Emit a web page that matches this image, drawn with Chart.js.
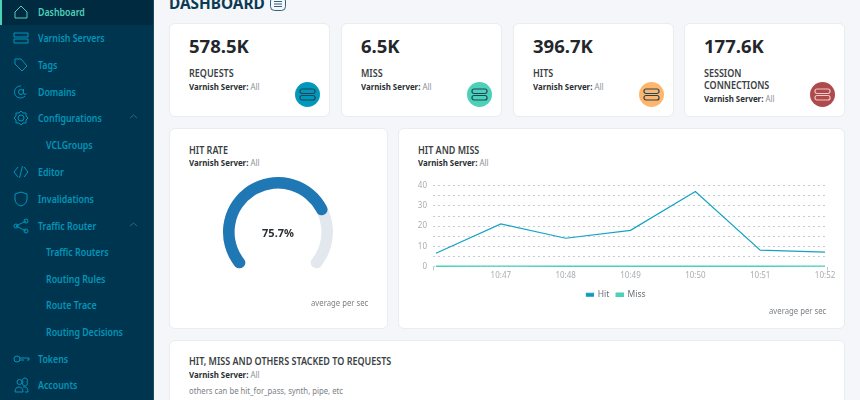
<!DOCTYPE html>
<html>
<head>
<meta charset="utf-8">
<title>Dashboard</title>
<style>
* { box-sizing: border-box; }
html, body { margin: 0; width: 860px; height: 400px; overflow: hidden; background: #f4f6f9; font-family: "Noto Sans", sans-serif; color: #2b2f33; }
.abs, .card, canvas, .nav, .ico { position: absolute; }
.abs { white-space: nowrap; line-height: 14px; }
#sidebar { position: absolute; left: 0; top: 0; width: 154px; height: 400px; background: #003550; border-right: 1px solid #1d4a63; }
#active { position: absolute; left: 0; top: 0; width: 153px; height: 25px; background: #002a40; border-left: 2px solid #4fd1b8; }
.nav { white-space: nowrap; font-size: 10px; font-weight: 600; line-height: 14px; transform: scaleX(.88); transform-origin: left; }
.card { background: #fff; border: 1px solid #e9ecf0; border-radius: 6px; }
.val { font-size: 18.5px; font-weight: 700; line-height: 22px; color: #23272b; }
.lbl { font-size: 10px; font-weight: 600; color: #3a3f44; line-height: 12px; transform: scaleX(.9); transform-origin: left; }
.srv { font-size: 9.5px; color: #8a8f94; transform: scaleX(.83); transform-origin: left; }
.srv b { color: #2b2f33; }
.note { font-size: 9px; color: #7d8287; transform: scaleX(.86); transform-origin: left; }
.dot { position: absolute; width: 25px; height: 25px; border-radius: 50%; }
</style>
</head>
<body>
<div id="sidebar"><div id="active"></div></div>
<div class="abs" style="left:169px;top:-7px;font-size:16px;font-weight:700;line-height:20px;color:#0c3a54;transform:scaleX(.96);transform-origin:left">DASHBOARD</div>
<svg class="abs" style="left:269px;top:-4px" width="18" height="16" fill="none" stroke="#33627c"><rect x="1.5" y="1" width="15" height="13.5" rx="4"/><path d="M5 5.5h8M5 8h8M5 10.5h8"/></svg>
<div id="cards"></div>

<div class="card" style="left:169px;top:128px;width:219px;height:201px"></div>
<div class="abs lbl" style="left:189px;top:144px">HIT RATE</div>
<div class="abs srv" style="left:189px;top:156px"><b>Varnish Server:</b> All</div>
<canvas id="gaugeTrack" width="140" height="140" style="left:208px;top:154px"></canvas>
<canvas id="gauge" width="140" height="140" style="left:208px;top:154px"></canvas>
<div class="abs" id="gaugeText" style="left:228px;width:100px;top:226px;text-align:center;font-size:11px;font-weight:700"></div>
<div class="abs note" style="left:311px;top:296px">average per sec</div>

<div class="card" style="left:398px;top:128px;width:447px;height:201px"></div>
<div class="abs lbl" style="left:418px;top:144px">HIT AND MISS</div>
<div class="abs srv" style="left:418px;top:156px"><b>Varnish Server:</b> All</div>
<canvas id="lineChart" width="440" height="134" style="left:405px;top:175px"></canvas>
<div class="abs note" style="left:769px;top:304px">average per sec</div>

<div class="card" style="left:169px;top:340px;width:676px;height:80px"></div>
<div class="abs lbl" style="left:189px;top:355px">HIT, MISS AND OTHERS STACKED TO REQUESTS</div>
<div class="abs srv" style="left:189px;top:368px"><b>Varnish Server:</b> All</div>
<div class="abs note" style="left:189px;top:384px">others can be hit_for_pass, synth, pipe, etc</div>

<script src="https://cdn.jsdelivr.net/npm/chart.js@4"></script>
<script>
const times = ['', '10:47', '10:48', '10:49', '10:50', '10:51', '10:52'];
const hitValues = [6.6, 21.1, 14, 17.9, 37.2, 8.1, 7.1];
const missValues = [0.1, 0.2, 0.1, 0.1, 0.1, 0.1, 0.2];
const hitRate = [75.7];
const restRate = [24.3];
const yTicks = [0, 5, 10, 15, 20, 25, 30, 35, 40];

const statValues = ['578.5K', '6.5K', '396.7K', '177.6K'];
const statLabels = ['REQUESTS', 'MISS', 'HITS', 'SESSION<br>CONNECTIONS'];
const statColors = ['#0099bb', '#4dd0b8', '#ffb66c', '#ae4a4c'];
const statLefts = [169, 341, 513, 684];
const menu = [
    ['Dashboard', 0, 'M3 9l6-6 6 6v6H3z'],
    ['Varnish Servers', 0, 'M2 4h14v4H2zM2 10h14v4H2z'],
    ['Tags', 0, 'M3 3h6l6 7-5 5-7-7z'],
    ['Domains', 0, 'M9 3a6 6 0 1 0 4 10M6.5 9a2.5 2.5 0 1 0 5 0a2.5 2.5 0 1 0-5 0M11.5 6v4q0 2 3 1'],
    ['Configurations', 0, 'M9 6a3 3 0 1 0 0 6a3 3 0 1 0 0-6M9 2l2 2 3 0 0 3 2 2-2 2 0 3-3 0-2 2-2-2-3 0 0-3-2-2 2-2 0-3 3 0z'],
    ['VCLGroups', 1],
    ['Editor', 0, 'M6 4L2 9l4 5M12 4l4 5-4 5M10.5 3l-3 12'],
    ['Invalidations', 0, 'M9 2l6 2v5q0 5-6 7-6-2-6-7V4z'],
    ['Traffic Router', 0, 'M4 9l10-5M4 9l10 5M2 9a2 2 0 1 0 4 0a2 2 0 1 0-4 0M12 4a2 2 0 1 0 4 0a2 2 0 1 0-4 0M12 14a2 2 0 1 0 4 0a2 2 0 1 0-4 0'],
    ['Traffic Routers', 1],
    ['Routing Rules', 1],
    ['Route Trace', 1],
    ['Routing Decisions', 1],
    ['Tokens', 0, 'M2 9a3 3 0 1 0 6 0a3 3 0 1 0-6 0M8 8h9v2h-2M8 10h4'],
    ['Accounts', 0, 'M3 16q0-5 4-5t4 5zM11 11q5-1 5 5h-3M5 6a2.5 2.5 0 1 0 5 0a2.5 2.5 0 1 0-5 0M11 6a2.5 2.5 0 1 0 4 0a2.5 2.5 0 1 0-4 0']
];
const menuTops = [11.5, 38, 65, 91.5, 118, 145, 171.5, 198.5, 225.5, 252, 278.5, 305, 332, 358.5, 385];

const sidebar = document.getElementById('sidebar');
menu.forEach(function(item, i) {
    const color = i === 0 ? '#4fd1b8' : '#0096b8';
    let html = '<div class="nav" style="left:' + (item[1] ? 46 : 38) + 'px;top:' + (menuTops[i] - 7) + 'px;color:' + color + '">' + item[0] + '</div>';
    if (item[2]) {
        html += '<svg class="ico" style="left:12px;top:' + (menuTops[i] - 9) + 'px" width="18" height="18" fill="none" stroke="' + color + '" stroke-width="1"><path d="' + item[2] + '"/></svg>';
    }
    if (item[0] === 'Configurations' || item[0] === 'Traffic Router') {
        html += '<svg class="ico" style="left:129px;top:' + (menuTops[i] - 4) + 'px" width="9" height="6" fill="none" stroke="#1c6f8c"><path d="M1 4l3.5-3 3.5 3"/></svg>';
    }
    sidebar.insertAdjacentHTML('beforeend', html);
});

const cards = document.getElementById('cards');
statValues.forEach(function(value, i) {
    const x = statLefts[i];
    const two = statLabels[i].indexOf('<br>') > -1;
    const stroke = i === 3 ? '#eec9c9' : '#1d4557';
    cards.insertAdjacentHTML('beforeend',
        '<div class="card" style="left:' + x + 'px;top:23px;width:161px;height:94px"></div>' +
        '<div class="abs val" style="left:' + (x + 20) + 'px;top:34.5px">' + value + '</div>' +
        '<div class="abs lbl" style="left:' + (x + 20) + 'px;top:67px">' + statLabels[i] + '</div>' +
        '<div class="abs srv" style="left:' + (x + 20) + 'px;top:' + (two ? 92 : 80) + 'px"><b>Varnish Server:</b> All</div>' +
        '<div class="dot" style="left:' + (x + 126) + 'px;top:82px;background:' + statColors[i] + '"></div>' +
        '<svg class="abs" style="left:' + (x + 130) + 'px;top:87px" width="17" height="15" fill="none" stroke="' + stroke + '" stroke-width="1.2"><rect x="1" y="2" width="15" height="4.5" rx="2"/><rect x="1" y="8.5" width="15" height="4.5" rx="2"/></svg>');
});

document.getElementById('gaugeText').textContent = hitRate[0] + '%';

function gaugeOptions() {
    return {
        responsive: false,
        animation: false,
        rotation: -135,
        circumference: 270,
        radius: 55,
        cutout: '79%',
        plugins: { legend: { display: false }, tooltip: { enabled: false } }
    };
}

new Chart(document.getElementById('gaugeTrack'), {
    type: 'doughnut',
    data: { datasets: [{ data: [hitRate[0] + restRate[0]], backgroundColor: ['#e3e8ef'], borderWidth: 0, borderRadius: 6 }] },
    options: gaugeOptions()
});
new Chart(document.getElementById('gauge'), {
    type: 'doughnut',
    data: { datasets: [{ data: [hitRate[0], restRate[0]], backgroundColor: ['#1f77b4', 'rgba(0,0,0,0)'], borderWidth: 0, borderRadius: 6 }] },
    options: gaugeOptions()
});

// category positions 0..6, the axis runs a few px past the first and last point
const xMin = -0.046;
const xMax = 6.03;

new Chart(document.getElementById('lineChart'), {
    type: 'line',
    data: {
        datasets: [
            { label: 'Hit', data: hitValues.map((v, i) => ({ x: i, y: v })), borderColor: '#14a2c4', backgroundColor: '#0a9abd', borderWidth: 1.2, pointRadius: 0, tension: 0, clip: false },
            { label: 'Miss', data: missValues.map((v, i) => ({ x: i, y: v })), borderColor: '#4dd0b8', backgroundColor: '#4dd0b8', borderWidth: 1.4, pointRadius: 0, tension: 0, clip: false }
        ]
    },
    options: {
        responsive: false,
        animation: false,
        layout: { padding: { top: 9, right: 18, left: 0, bottom: 0 } },
        plugins: {
            tooltip: { enabled: false },
            legend: {
                position: 'bottom',
                labels: { boxWidth: 7, boxHeight: 3, padding: 7, color: '#6c7176', font: { family: 'Noto Sans', size: 8.5 } }
            }
        },
        scales: {
            x: {
                type: 'linear',
                min: xMin,
                max: xMax,
                afterBuildTicks: function(axis) {
                    axis.ticks = [xMin].concat(times.map((t, i) => i).slice(1), [xMax]).map(v => ({ value: v }));
                },
                afterFit: function(axis) { axis.height = 17; },
                border: { display: false },
                grid: {
                    drawOnChartArea: false,
                    tickLength: 4,
                    color: function(c) { return (c.tick && (c.tick.value === xMin || c.tick.value === xMax)) ? '#c4c8cc' : 'rgba(0,0,0,0)'; }
                },
                ticks: {
                    autoSkip: false,
                    maxRotation: 0,
                    padding: 0,
                    color: '#a9adb1',
                    font: { family: 'Noto Sans', size: 8 },
                    callback: function(value) { return Number.isInteger(value) ? times[value] : ''; }
                }
            },
            y: {
                min: 0,
                max: 40,
                afterBuildTicks: function(axis) { axis.ticks = yTicks.map(v => ({ value: v })); },
                afterFit: function(axis) { axis.width = 28; },
                border: { display: false, dash: [2, 3] },
                grid: { color: '#c8ccd0', lineWidth: 1, drawTicks: false },
                ticks: {
                    autoSkip: false,
                    color: '#a9adb1',
                    padding: 6,
                    font: { family: 'Noto Sans', size: 8 },
                    callback: function(value) { return value % 10 === 0 ? value : ''; }
                }
            }
        }
    }
});
</script>
</body>
</html>
